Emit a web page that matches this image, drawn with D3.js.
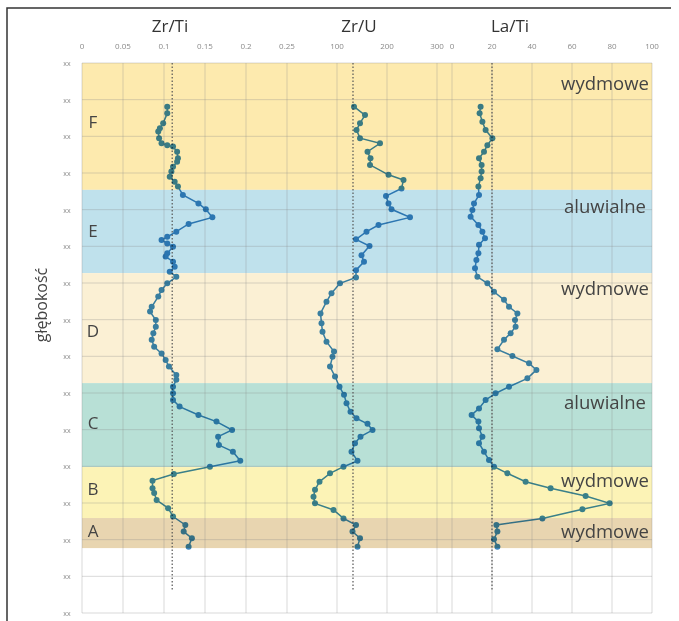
<!DOCTYPE html>
<html>
  <head>
    <meta charset="utf-8">
    <title>Zr/Ti, Zr/U, La/Ti - profil</title>
    <style>
      body { margin: 0; background: #fff; }
      svg { font-family: "Open Sans", sans-serif; }
      .tick-label { fill: #8a8a8a; font-size: 8px; }
      .grid { stroke: #8c8c8c; stroke-opacity: 0.32; stroke-width: 1px; }
      .ref { stroke: #555; stroke-width: 1.2px; stroke-dasharray: 1.5,2; }
      .series { mix-blend-mode: multiply; }
    </style>
  </head>
  <body>
    <svg width="679" height="621"></svg>
    <script src="https://d3js.org/d3.v7.min.js"></script>
    <script>
      // depth in units of the (hidden) "xx" tick interval
      const depthTicks = d3.range(0, 16);
      const depthTickLabels = depthTicks.map(() => "xx");

      const zrTiTicks = [0, 0.05, 0.1, 0.15, 0.2, 0.25];
      const zrUTicks = [100, 200, 300];
      const laTiTicks = [0, 20, 40, 60, 80, 100];

      const refZrTi = 0.11, refZrU = 132, refLaTi = 20;

      const bandFrom = [0, 3.46, 5.73, 8.73, 11.02, 12.41];
      const bandTo = [3.46, 5.73, 8.73, 11.02, 12.41, 13.23];
      const bandNames = ["wydmowe", "aluwialne", "wydmowe", "aluwialne", "wydmowe", "wydmowe"];
      const bandLabelDepth = [0.74, 4.09, 6.33, 9.44, 11.56, 12.95];

      const unitLetters = ["F", "E", "D", "C", "B", "A"];
      const unitDepth = [1.61, 4.58, 7.31, 9.82, 11.62, 12.76];

      const zrTiDepth = [1.19, 1.37, 1.64, 1.78, 1.87, 2.05, 2.19, 2.24, 2.28, 2.42, 2.60, 2.69, 2.83, 2.96, 3.10, 3.24, 3.37, 3.60, 3.83, 3.99, 4.21, 4.39, 4.60, 4.74, 4.83, 4.92, 5.01, 5.19, 5.28, 5.42, 5.56, 5.69, 5.83, 6.01, 6.19, 6.37, 6.65, 6.78, 7.01, 7.19, 7.37, 7.55, 7.74, 7.92, 8.10, 8.28, 8.51, 8.64, 8.83, 9.01, 9.19, 9.37, 9.60, 9.78, 10.01, 10.19, 10.42, 10.60, 10.85, 11.01, 11.21, 11.39, 11.60, 11.73, 11.92, 12.14, 12.37, 12.60, 12.78, 12.96, 13.19];
      const zrTiValue = [0.104, 0.104, 0.099, 0.095, 0.093, 0.094, 0.097, 0.104, 0.111, 0.116, 0.117, 0.116, 0.111, 0.109, 0.107, 0.113, 0.117, 0.123, 0.142, 0.151, 0.159, 0.130, 0.115, 0.104, 0.097, 0.104, 0.111, 0.104, 0.102, 0.111, 0.113, 0.107, 0.115, 0.104, 0.097, 0.093, 0.085, 0.083, 0.090, 0.090, 0.087, 0.085, 0.088, 0.097, 0.102, 0.106, 0.115, 0.115, 0.111, 0.111, 0.111, 0.119, 0.142, 0.164, 0.183, 0.166, 0.167, 0.184, 0.193, 0.156, 0.112, 0.086, 0.086, 0.088, 0.091, 0.105, 0.111, 0.126, 0.124, 0.134, 0.130];

      const zrUDepth = [1.19, 1.42, 1.64, 1.83, 2.05, 2.19, 2.42, 2.60, 2.78, 3.05, 3.19, 3.42, 3.63, 3.83, 3.99, 4.21, 4.42, 4.60, 4.81, 4.99, 5.24, 5.42, 5.65, 5.85, 6.01, 6.28, 6.51, 6.83, 7.10, 7.33, 7.60, 7.87, 8.01, 8.28, 8.55, 8.83, 9.05, 9.28, 9.51, 9.69, 9.84, 10.01, 10.19, 10.37, 10.60, 10.85, 11.01, 11.19, 11.42, 11.64, 11.83, 12.01, 12.19, 12.42, 12.60, 12.78, 12.96, 13.19];
      const zrUValue = [134, 156, 146, 139, 146, 186, 161, 167, 166, 203, 233, 229, 198, 203, 209, 246, 183, 159, 138, 165, 149, 154, 138, 138, 106, 89, 79, 67, 69, 71, 79, 94, 91, 86, 96, 105, 114, 119, 127, 139, 161, 171, 147, 136, 129, 141, 113, 86, 65, 56, 53, 56, 93, 113, 138, 131, 146, 141];

      const laTiDepth = [1.19, 1.37, 1.60, 1.83, 2.05, 2.24, 2.42, 2.60, 2.78, 2.96, 3.14, 3.37, 3.60, 3.83, 4.01, 4.19, 4.42, 4.60, 4.78, 4.96, 5.19, 5.37, 5.60, 5.83, 6.01, 6.24, 6.46, 6.65, 6.83, 7.01, 7.19, 7.37, 7.55, 7.81, 7.99, 8.19, 8.37, 8.60, 8.83, 9.01, 9.19, 9.42, 9.60, 9.78, 9.96, 10.19, 10.37, 10.60, 10.83, 11.01, 11.19, 11.42, 11.60, 11.81, 12.01, 12.17, 12.42, 12.60, 12.78, 12.99, 13.19];
      const laTiValue = [14.3, 13.8, 15.2, 16.8, 20.2, 17.7, 16.0, 13.5, 14.8, 14.8, 14.3, 13.2, 13.5, 11.0, 10.2, 9.3, 13.2, 15.2, 16.5, 13.5, 13.2, 12.2, 11.5, 12.7, 17.7, 21.0, 26.0, 28.5, 32.7, 31.5, 31.8, 29.3, 26.0, 22.7, 30.2, 38.5, 42.2, 37.7, 28.5, 21.8, 16.8, 13.5, 9.8, 13.2, 13.5, 15.2, 13.5, 16.0, 18.5, 21.0, 27.7, 36.8, 49.3, 66.8, 78.8, 65.2, 45.2, 22.2, 22.7, 21.0, 22.7];

      const bandColors = ["#fdeaae", "#bfe1ec", "#fbf0d4", "#b8e0d6", "#fcf3b6", "#e8d5b0"];
      const seriesColor = "#3a86c0";

      const svg = d3.select("svg");

      const y = d3.scaleLinear().domain([0, 15]).range([63, 613]);
      const xZrTi = d3.scaleLinear().domain([0, 0.25]).range([82, 287]);
      const xZrU = d3.scaleLinear().domain([0, 330]).range([287, 452]);
      const xLaTi = d3.scaleLinear().domain([0, 100]).range([452, 652]);
      const left = 82, right = 652;

      // outer frame (top and left only)
      svg.append("path")
        .attr("d", "M7,621V8H671")
        .attr("fill", "none")
        .attr("stroke", "#333")
        .attr("stroke-width", 1.5);

      // background bands
      svg.selectAll(".band")
        .data(bandNames)
        .join("rect")
        .attr("class", "band")
        .attr("x", left)
        .attr("width", right - left)
        .attr("y", (d, i) => y(bandFrom[i]))
        .attr("height", (d, i) => y(bandTo[i]) - y(bandFrom[i]))
        .attr("fill", (d, i) => bandColors[i]);

      // grid
      const vx = [left]
        .concat(zrTiTicks.slice(1).map(xZrTi))
        .concat(zrUTicks.map(xZrU))
        .concat(laTiTicks.map(xLaTi));
      svg.selectAll(".vgrid")
        .data(vx)
        .join("line")
        .attr("class", "grid")
        .attr("x1", d => d).attr("x2", d => d)
        .attr("y1", y(0)).attr("y2", y(15));
      svg.selectAll(".hgrid")
        .data(depthTicks)
        .join("line")
        .attr("class", "grid")
        .attr("x1", left).attr("x2", right)
        .attr("y1", d => y(d)).attr("y2", d => y(d));

      // top tick labels
      const topLabels = zrTiTicks.map(v => ({ x: xZrTi(v), t: String(v) }))
        .concat(zrUTicks.map(v => ({ x: xZrU(v), t: String(v) })))
        .concat(laTiTicks.map(v => ({ x: xLaTi(v), t: String(v) })));
      svg.selectAll(".top-label")
        .data(topLabels)
        .join("text")
        .attr("class", "tick-label")
        .attr("x", d => d.x)
        .attr("y", 49)
        .attr("text-anchor", "middle")
        .text(d => d.t);

      // depth tick labels
      svg.selectAll(".depth-label")
        .data(depthTicks)
        .join("text")
        .attr("class", "tick-label")
        .attr("x", 67)
        .attr("y", d => y(d) + 3)
        .attr("text-anchor", "middle")
        .style("font-size", "7px")
        .text((d, i) => depthTickLabels[i]);

      // dotted reference lines
      [xZrTi(refZrTi), xZrU(refZrU), xLaTi(refLaTi)].forEach(x => {
        svg.append("line")
          .attr("class", "ref")
          .attr("x1", x).attr("x2", x)
          .attr("y1", y(0)).attr("y2", y(14.4));
      });

      // series
      function drawSeries(depths, values, x) {
        const pts = depths.map((d, i) => [x(values[i]), y(d)]);
        const g = svg.append("g").attr("class", "series");
        g.append("path")
          .attr("d", d3.line()(pts))
          .attr("fill", "none")
          .attr("stroke", seriesColor)
          .attr("stroke-width", 1.5);
        g.selectAll("circle")
          .data(pts)
          .join("circle")
          .attr("cx", d => d[0])
          .attr("cy", d => d[1])
          .attr("r", 3)
          .attr("fill", seriesColor);
      }
      drawSeries(zrTiDepth, zrTiValue, xZrTi);
      drawSeries(zrUDepth, zrUValue, xZrU);
      drawSeries(laTiDepth, laTiValue, xLaTi);

      // titles
      const titles = [["Zr/Ti", 170], ["Zr/U", 359], ["La/Ti", 510]];
      svg.selectAll(".title")
        .data(titles)
        .join("text")
        .attr("x", d => d[1])
        .attr("y", 32)
        .attr("text-anchor", "middle")
        .style("font-size", "17px")
        .attr("fill", "#333")
        .text(d => d[0]);

      // unit letters
      svg.selectAll(".unit")
        .data(unitLetters)
        .join("text")
        .attr("x", 93)
        .attr("y", (d, i) => y(unitDepth[i]) + 6)
        .attr("text-anchor", "middle")
        .style("font-size", "17px")
        .attr("fill", "#444")
        .text(d => d);

      // band names
      svg.selectAll(".band-name")
        .data(bandNames)
        .join("text")
        .attr("x", 605)
        .attr("y", (d, i) => y(bandLabelDepth[i]))
        .attr("text-anchor", "middle")
        .style("font-size", "18.5px")
        .attr("fill", "#444")
        .text(d => d);

      // y axis title
      svg.append("text")
        .attr("transform", "translate(47,305) rotate(-90)")
        .attr("text-anchor", "middle")
        .style("font-size", "16px")
        .attr("fill", "#444")
        .text("głębokość");
    </script>
  </body>
</html>
